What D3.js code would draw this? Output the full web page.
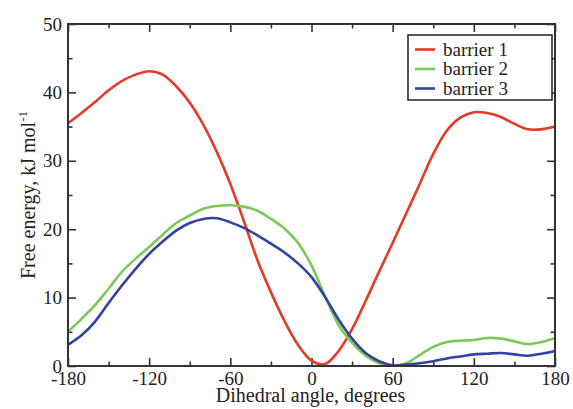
<!DOCTYPE html>
<html>
<head>
<meta charset="utf-8">
<script src="https://cdn.jsdelivr.net/npm/d3@7/dist/d3.min.js"></script>
<style>
  html, body { margin: 0; padding: 0; background: #fff; }
  svg text { font-family: "Liberation Serif", "Times New Roman", serif; fill: #222; }
</style>
</head>
<body>
<svg id="chart" width="573" height="409"></svg>
<script>
// Dihedral angle grid (degrees)
const angles = [-180,-170,-160,-150,-140,-130,-120,-110,-100,-90,-80,-70,-60,-50,-40,-30,-20,-10,
                0,10,20,30,40,50,60,70,80,90,100,110,120,130,140,150,160,170,180];

// Free energy profiles, kJ/mol
const barrier1 = [35.5,37.0,38.6,40.3,41.7,42.6,43.1,42.6,40.9,38.5,35.3,31.3,26.6,21.2,15.5,10.8,6.6,3.1,
                  0.8,0.3,2.2,5.4,9.5,13.8,18.0,22.3,26.6,31.0,34.4,36.3,37.1,37.0,36.4,35.4,34.6,34.6,35.0];
const barrier2 = [5.0,6.9,8.9,11.3,13.8,15.7,17.4,19.2,20.9,22.0,23.0,23.4,23.5,23.3,22.7,21.5,20.1,18.0,
                  14.7,10.2,6.0,3.4,1.5,0.4,0.05,0.4,1.6,2.8,3.5,3.7,3.8,4.1,4.0,3.6,3.2,3.5,4.1];
const barrier3 = [3.1,4.5,6.5,9.2,11.8,14.2,16.4,18.2,19.8,20.9,21.5,21.6,21.0,20.2,19.1,17.9,16.6,15.0,
                  13.0,10.1,6.8,4.0,1.9,0.7,0.1,0.2,0.4,0.7,1.1,1.4,1.7,1.8,1.9,1.7,1.5,1.8,2.2];

const seriesNames = ["barrier 1", "barrier 2", "barrier 3"];
const seriesValues = [barrier1, barrier2, barrier3];
const seriesColors = ["#e63a28", "#7cc95a", "#3342a0"];

const xTicks = [-180, -120, -60, 0, 60, 120, 180];
const xMinorTicks = [-150, -90, -30, 30, 90, 150];
const yTicks = [0, 10, 20, 30, 40, 50];
const yMinorTicks = [5, 15, 25, 35, 45];

const svg = d3.select("#chart");
const plotLeft = 68, plotRight = 555, plotTop = 24, plotBottom = 366;

const x = d3.scaleLinear().domain([-180, 180]).range([plotLeft, plotRight]);
const y = d3.scaleLinear().domain([0, 50]).range([plotBottom, plotTop]);

const axisColor = "#333";
const majorLen = 8, minorLen = 4.5;
const plainNumber = d => String(d);

// Frame axes: ticks point into the plot on every side
function styleAxis(g) {
  g.select(".domain").remove();
  g.selectAll(".tick line").attr("stroke", axisColor).attr("stroke-width", 1.6);
  g.selectAll("text").attr("font-size", 19).attr("fill", "#222")
    .style("font-family", "'Liberation Serif', serif");
}

// Bottom
svg.append("g").attr("transform", `translate(0,${plotBottom})`)
  .call(d3.axisBottom(x).tickValues(xTicks).tickSizeInner(-majorLen).tickSizeOuter(0).tickPadding(5.5).tickFormat(plainNumber))
  .call(styleAxis)
  .call(g => g.selectAll("text").attr("dy", "0.71em"));
svg.append("g").attr("transform", `translate(0,${plotBottom})`)
  .call(d3.axisBottom(x).tickValues(xMinorTicks).tickSizeInner(-minorLen).tickSizeOuter(0).tickFormat(""))
  .call(styleAxis);
// Top
svg.append("g").attr("transform", `translate(0,${plotTop})`)
  .call(d3.axisTop(x).tickValues(xTicks).tickSizeInner(-majorLen).tickSizeOuter(0).tickFormat(""))
  .call(styleAxis);
svg.append("g").attr("transform", `translate(0,${plotTop})`)
  .call(d3.axisTop(x).tickValues(xMinorTicks).tickSizeInner(-minorLen).tickSizeOuter(0).tickFormat(""))
  .call(styleAxis);
// Left
svg.append("g").attr("transform", `translate(${plotLeft},0)`)
  .call(d3.axisLeft(y).tickValues(yTicks).tickSizeInner(-majorLen).tickSizeOuter(0).tickPadding(6).tickFormat(plainNumber))
  .call(styleAxis);
svg.append("g").attr("transform", `translate(${plotLeft},0)`)
  .call(d3.axisLeft(y).tickValues(yMinorTicks).tickSizeInner(-minorLen).tickSizeOuter(0).tickFormat(""))
  .call(styleAxis);
// Right
svg.append("g").attr("transform", `translate(${plotRight},0)`)
  .call(d3.axisRight(y).tickValues(yTicks).tickSizeInner(-majorLen).tickSizeOuter(0).tickFormat(""))
  .call(styleAxis);
svg.append("g").attr("transform", `translate(${plotRight},0)`)
  .call(d3.axisRight(y).tickValues(yMinorTicks).tickSizeInner(-minorLen).tickSizeOuter(0).tickFormat(""))
  .call(styleAxis);

// Curves
const line = d3.line()
  .x((d, i) => x(angles[i]))
  .y(d => y(d))
  .curve(d3.curveCatmullRom.alpha(0.5));

seriesValues.forEach((vals, k) => {
  svg.append("path")
    .datum(vals)
    .attr("fill", "none")
    .attr("stroke", seriesColors[k])
    .attr("stroke-width", 2.6)
    .attr("stroke-linejoin", "round")
    .attr("d", line);
});

// Plot frame
svg.append("rect")
  .attr("x", plotLeft).attr("y", plotTop)
  .attr("width", plotRight - plotLeft).attr("height", plotBottom - plotTop)
  .attr("fill", "none").attr("stroke", axisColor).attr("stroke-width", 2);

// Axis titles
svg.append("text")
  .attr("x", (plotLeft + plotRight) / 2 - 1).attr("y", 402)
  .attr("text-anchor", "middle").attr("font-size", 20)
  .text("Dihedral angle, degrees");

const yTitle = svg.append("text")
  .attr("transform", `translate(34.5,195) rotate(-90)`)
  .attr("text-anchor", "middle").attr("font-size", 20);
yTitle.append("tspan").text("Free energy, kJ mol");
yTitle.append("tspan").attr("font-size", 13).attr("dy", -8).text("-1");

// Legend
const legend = svg.append("g");
legend.append("rect")
  .attr("x", 408).attr("y", 35).attr("width", 144).attr("height", 65)
  .attr("fill", "#fff").attr("stroke", "#222").attr("stroke-width", 1.5);
seriesNames.forEach((name, k) => {
  const ly = 49.5 + k * 19.5;
  legend.append("line")
    .attr("x1", 415).attr("x2", 435).attr("y1", ly).attr("y2", ly)
    .attr("stroke", seriesColors[k]).attr("stroke-width", 2.6);
  legend.append("text")
    .attr("x", 443).attr("y", ly + 6)
    .attr("font-size", 19)
    .text(name);
});
</script>
</body>
</html>
